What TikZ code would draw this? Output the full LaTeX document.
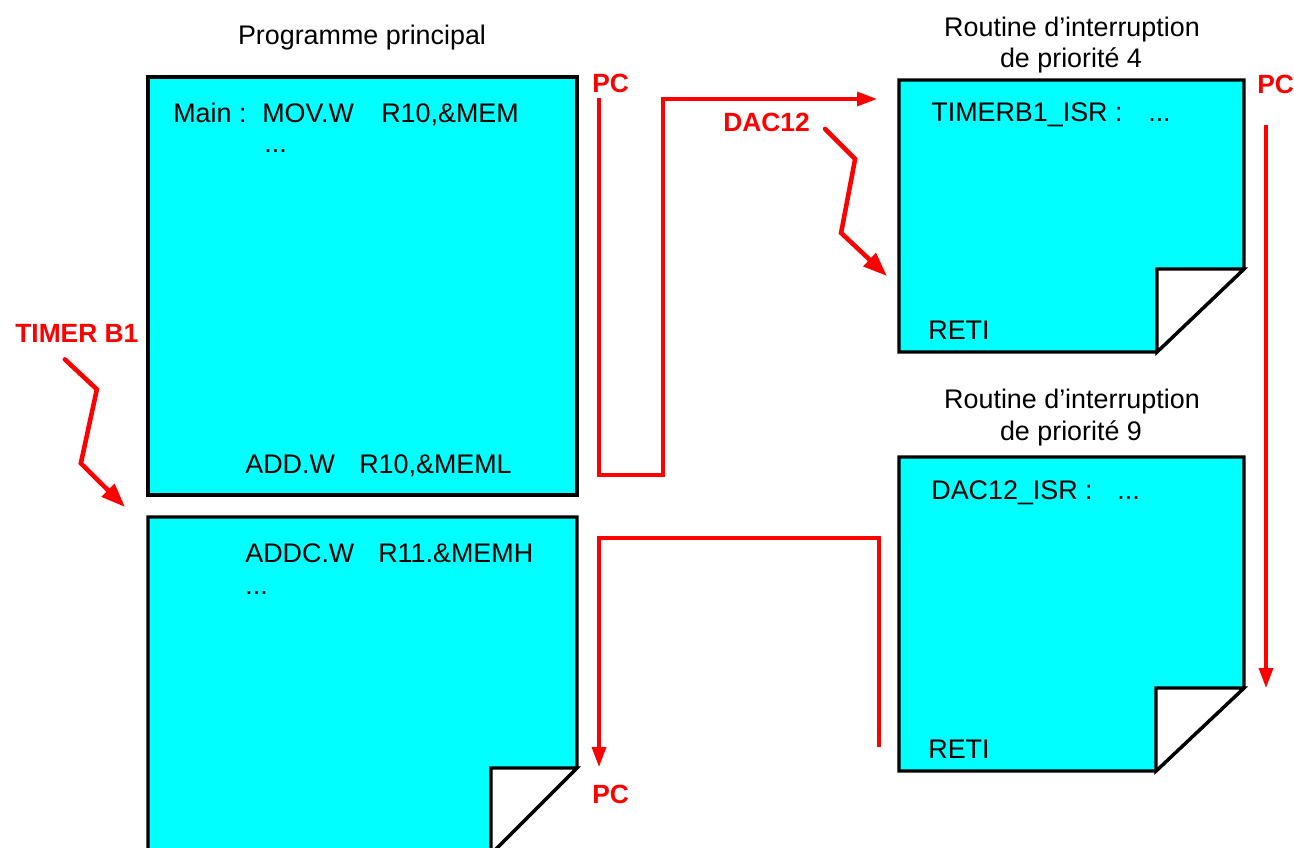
\documentclass[tikz,border=0pt]{standalone}
\usepackage{fontspec}
\setmainfont{Liberation Sans}
\usetikzlibrary{arrows.meta}
\definecolor{PageCyan}{RGB}{0,255,255}
\definecolor{FlowRed}{RGB}{255,0,0}
\tikzset{
	page/.style={draw=black,fill=PageCyan,line width=1.9pt},
	fold/.style={draw=black,fill=white,line width=1.9pt},
	code/.style={anchor=base west,inner sep=0pt,font=\fontsize{15.3}{18}\selectfont},
	title/.style={anchor=base,inner sep=0pt,font=\fontsize{15.3}{18}\selectfont},
	tag/.style={anchor=base west,inner sep=0pt,text=FlowRed,font=\fontsize{15}{18}\selectfont\bfseries},
	flow/.style={draw=FlowRed,line width=1.9pt,-{Triangle[length=4mm,width=2.8mm]}},
	bolt/.style={draw=FlowRed,line width=2.6pt,line cap=round,-{Triangle[length=4.8mm,width=3.5mm]}}
}

\begin{document}
\begin{tikzpicture}[x=0.02cm,y=-0.02cm]
	
	\useasboundingbox (0,0) rectangle (1294,848);
	\clip (0,0) rectangle (1294,848);
	
	% programme principal
	\filldraw[page] (148,77) rectangle (577,495);
	\filldraw[page] (148,517) -- (577,517) -- (577,768) -- (491,854) -- (148,854) -- cycle;
	\filldraw[fold] (491,768) -- (577,768) -- (491,854) -- cycle;
	
	% routines d'interruption
	\filldraw[page] (899,80) -- (1244,80) -- (1244,269) -- (1157,352) -- (899,352) -- cycle;
	\filldraw[fold] (1157,269) -- (1244,269) -- (1157,352) -- cycle;
	\filldraw[page] (899,457) -- (1244,457) -- (1244,688) -- (1156,771) -- (899,771) -- cycle;
	\filldraw[fold] (1156,688) -- (1244,688) -- (1156,771) -- cycle;
	
	% titres
	\node[title] (maintitle) at (362,45) {Programme principal};
	\node[title] (isr4title) at (1072,37) {Routine d’interruption};
	\node[title] (isr4prio) at (1071,68) {de priorité 4};
	\node[title] (isr9title) at (1072,408) {Routine d’interruption};
	\node[title] (isr9prio) at (1071,440) {de priorité 9};
	
	% code
	\node[code] (movline) at (173,122)
	{\makebox[17.8mm][l]{Main :}\makebox[23.8mm][l]{MOV.W}R10,\&MEM};
	\node[code] (movdots) at (264,153) {...};
	\node[code] (addline) at (245,473)
	{\makebox[22.8mm][l]{ADD.W}R10,\&MEML};
	\node[code] (addcline) at (245,562)
	{\makebox[26.6mm][l]{ADDC.W}R11.\&MEMH};
	\node[code] (addcdots) at (245,594) {...};
	\node[code] (isr4line) at (931,121)
	{\makebox[43.4mm][l]{TIMERB1\_ISR :}...};
	\node[code] (isr4reti) at (928,339) {RETI};
	\node[code] (isr9line) at (931,499)
	{\makebox[37.2mm][l]{DAC12\_ISR :}...};
	\node[code] (isr9reti) at (928,758) {RETI};
	
	% etiquettes rouges
	\node[tag] (pcmain) at (592,92) {PC};
	\node[tag] (pcisr) at (1257,93) {PC};
	\node[tag] (pcback) at (592,803) {PC};
	\node[tag] (dac) at (723,132) {DAC12};
	\node[tag] (timer) at (15,342) {TIMER B1};
	
	% points de passage
	\coordinate (mainout) at (599,98);
	\coordinate (loopturn) at (663,475);
	\coordinate (isr4in) at (877,99);
	\coordinate (isr4top) at (1266,125);
	\coordinate (isr4end) at (1266,688);
	\coordinate (isr9out) at (879,747);
	\coordinate (backturn) at (879,538);
	\coordinate (mainback) at (599,767);
	\coordinate (isr4hit) at (887,276);
	\coordinate (mainhit) at (125,507);
	
	% cheminement du PC
	\draw[flow] (mainout) |- (loopturn) |- (isr4in);
	\draw[flow] (isr4top) -- (isr4end);
	\draw[flow] (isr9out) -- (backturn) -| (mainback);
	
	% interruptions
	\draw[bolt] (dac.east) ++(15,6) -- ++(30,30) -- ++(-14,74) -- (isr4hit);
	\draw[bolt] (timer.south) ++(-12,17) -- ++(32,30) -- ++(-16,74) -- (mainhit);
	
\end{tikzpicture}
\end{document}
